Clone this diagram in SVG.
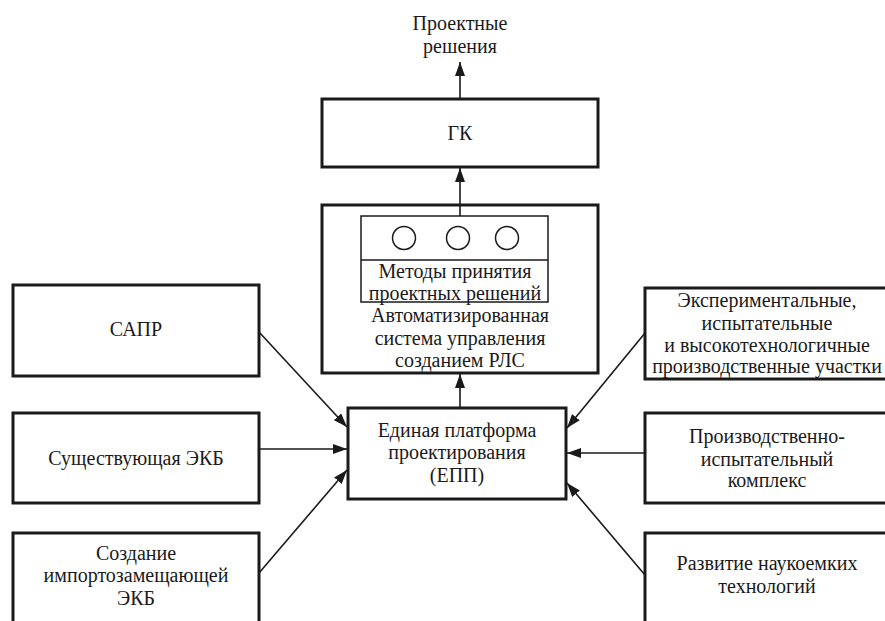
<svg xmlns="http://www.w3.org/2000/svg" width="885" height="621" viewBox="0 0 885 621">
<style>
.box{fill:#fff;stroke:#1a1a1a;stroke-width:3}
.thin{fill:none;stroke:#1a1a1a;stroke-width:1.5}
.t{font-family:'Liberation Serif',serif;font-size:20px;fill:#1a1a1a;text-anchor:middle}
.c{fill:none;stroke:#1a1a1a;stroke-width:1.6}
</style>
<defs>
<marker id="ah" viewBox="0 0 14 10" refX="14" refY="5" markerWidth="14" markerHeight="10" markerUnits="userSpaceOnUse" orient="auto">
<path d="M0,0 L14,5 L0,10 Z" fill="#1a1a1a"/>
</marker>
</defs>
<rect width="885" height="621" fill="#fff"/>
<g id="output">
<text class="t" x="460" y="30">Проектные</text>
<text class="t" x="460" y="53">решения</text>
</g>
<g id="gk">
<rect class="box" x="322" y="99" width="276" height="68"/>
<text class="t" x="460" y="140">ГК</text>
</g>
<g id="asu">
<rect class="box" x="322" y="205" width="276" height="168"/>
<text class="t" x="460" y="322">Автоматизированная</text>
<text class="t" x="460" y="345">система управления</text>
<text class="t" x="460" y="367">созданием РЛС</text>
</g>
<g id="methods">
<rect class="thin" x="361" y="216" width="187" height="86"/>
<line class="thin" x1="361" y1="260" x2="548" y2="260"/>
<circle class="thin" cx="404" cy="238" r="11.5"/>
<circle class="thin" cx="458" cy="238" r="11.5"/>
<circle class="thin" cx="507" cy="238" r="11.5"/>
<text class="t" x="455" y="278">Методы принятия</text>
<text class="t" x="455" y="300">проектных решений</text>
</g>
<g id="epp">
<rect class="box" x="348" y="408" width="218" height="91"/>
<text class="t" x="457" y="437">Единая платформа</text>
<text class="t" x="457" y="459">проектирования</text>
<text class="t" x="457" y="482">(ЕПП)</text>
</g>
<g id="sapr">
<rect class="box" x="13" y="285" width="246" height="91"/>
<text class="t" x="136" y="336">САПР</text>
</g>
<g id="ekb">
<rect class="box" x="13" y="413" width="246" height="90"/>
<text class="t" x="136" y="465">Существующая ЭКБ</text>
</g>
<g id="import">
<rect class="box" x="13" y="533" width="246" height="100"/>
<text class="t" x="136" y="560">Создание</text>
<text class="t" x="136" y="582">импортозамещающей</text>
<text class="t" x="136" y="605">ЭКБ</text>
</g>
<g id="exp">
<rect class="box" x="645" y="288" width="245" height="91"/>
<text class="t" x="767" y="307">Экспериментальные,</text>
<text class="t" x="767" y="330">испытательные</text>
<text class="t" x="767" y="352">и высокотехнологичные</text>
<text class="t" x="767" y="373">производственные участки</text>
</g>
<g id="pik">
<rect class="box" x="645" y="413" width="245" height="90"/>
<text class="t" x="767" y="443">Производственно-</text>
<text class="t" x="767" y="466">испытательный</text>
<text class="t" x="767" y="487">комплекс</text>
</g>
<g id="tech">
<rect class="box" x="645" y="533" width="245" height="100"/>
<text class="t" x="767" y="570">Развитие наукоемких</text>
<text class="t" x="767" y="593">технологий</text>
</g>
<g id="connectors">
<line class="c" x1="460" y1="99" x2="460" y2="62" marker-end="url(#ah)"/>
<line class="c" x1="460" y1="216" x2="460" y2="168" marker-end="url(#ah)"/>
<line class="c" x1="460" y1="407" x2="460" y2="374" marker-end="url(#ah)"/>
<line class="c" x1="259" y1="332" x2="347" y2="427" marker-end="url(#ah)"/>
<line class="c" x1="259" y1="449" x2="347" y2="449" marker-end="url(#ah)"/>
<line class="c" x1="259" y1="573" x2="347" y2="470" marker-end="url(#ah)"/>
<line class="c" x1="645" y1="333" x2="567" y2="428" marker-end="url(#ah)"/>
<line class="c" x1="645" y1="453" x2="567" y2="453" marker-end="url(#ah)"/>
<line class="c" x1="645" y1="575" x2="567" y2="483" marker-end="url(#ah)"/>
</g>
</svg>
